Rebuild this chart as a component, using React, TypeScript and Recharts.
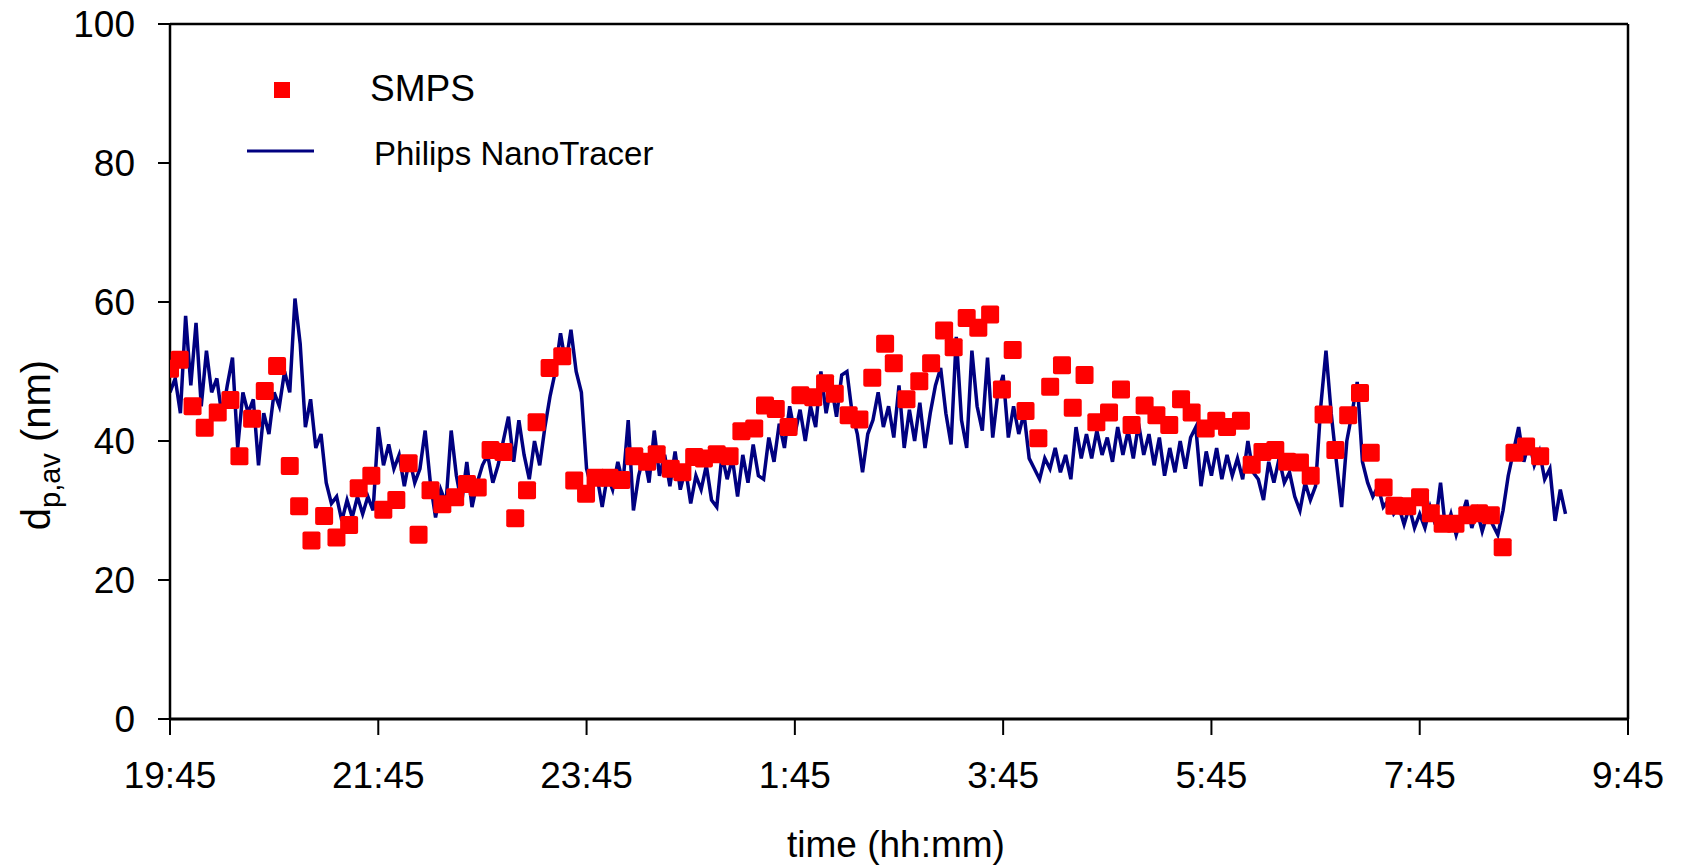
import React from 'react';
import { ComposedChart, Line, Scatter, XAxis, YAxis, ReferenceLine } from 'recharts';

const FONT = "Arial, 'Liberation Sans', sans-serif";

// x axis: minutes after 19:45
const timeTicks = [0, 120, 240, 360, 480, 600, 720, 840];
const timeTickLabels = ['19:45', '21:45', '23:45', '1:45', '3:45', '5:45', '7:45', '9:45'];
const dpTicks = [0, 20, 40, 60, 80, 100];

// SMPS mean diameter (nm)
const smpsTime = [
  0, 5.6, 13, 20, 27.5, 34.8, 40, 47.3, 54.6, 61.7,
  69, 74.4, 81.5, 88.8, 95.9, 103.2, 108.7, 116, 122.9, 130.4,
  137.5, 143.2, 150.1, 156.9, 164.3, 171.1, 177.3, 184.7, 192.1, 198.9,
  205.7, 211.2, 218.7, 226, 232.9, 239.7, 245.2, 253.2, 260, 267.5,
  274.9, 280.4, 288.5, 295.2, 302, 307.6, 315, 322.4, 329.2, 336.6,
  342.8, 349, 356.4, 363.2, 370.6, 377.4, 383, 391, 397.2, 404.6,
  412, 417, 424.3, 431.7, 438.5, 446, 451.5, 459, 465.7, 472.5,
  479.3, 485.5, 492.9, 500.3, 507.1, 513.9, 520.1, 526.9, 533.7, 541,
  547.9, 554, 561.5, 568.3, 575.7, 582.5, 588.6, 596.7, 602.8, 609,
  617, 623.2, 629.4, 636.8, 643.6, 651, 657.2, 664.6, 671.4, 678.8,
  685.6, 691.8, 699.2, 705.4, 712.8, 720.2, 726.4, 733.2, 740.6, 747.4,
  754.2, 761, 767.8, 774.6, 781.3, 789.4,
];
const smpsDp = [
  50.4, 51.7, 45.0, 41.9, 44.1, 45.9, 37.8, 43.2, 47.2, 50.8,
  36.4, 30.6, 25.7, 29.2, 26.1, 27.9, 33.2, 35.0, 30.1, 31.5,
  36.8, 26.5, 32.9, 30.9, 31.9, 33.8, 33.3, 38.7, 38.4, 28.9,
  32.9, 42.7, 50.5, 52.2, 34.3, 32.4, 34.7, 34.7, 34.4, 37.8,
  37.0, 38.1, 36.0, 35.5, 37.7, 37.5, 38.1, 37.8, 41.4, 41.8,
  45.1, 44.6, 42.0, 46.6, 46.3, 48.3, 46.8, 43.7, 43.1, 49.1,
  54.0, 51.2, 46.0, 48.6, 51.2, 55.9, 53.5, 57.7, 56.3, 58.2,
  47.4, 53.1, 44.3, 40.4, 47.8, 50.9, 44.8, 49.5, 42.7, 44.1,
  47.4, 42.3, 45.1, 43.7, 42.3, 46.0, 44.1, 41.8, 42.9, 42.0,
  42.9, 36.6, 38.4, 38.7, 37.0, 36.9, 35.0, 43.8, 38.7, 43.7,
  46.9, 38.3, 33.3, 30.7, 30.6, 31.9, 29.6, 28.1, 28.1, 29.3,
  29.6, 29.3, 24.7, 38.3, 39.2, 37.8,
];

// Philips NanoTracer, sampled every 3 minutes from 19:45
const nanoStepMin = 3;
const nanoDp = [
  47, 49, 44, 58, 48, 57, 45, 53, 47, 49,
  43.5, 48, 52, 39, 47, 44, 46, 36.5, 44, 41,
  47, 45, 50, 47, 60.5, 54, 42, 46, 39, 41,
  34, 31, 32, 28.5, 31.5, 29, 32, 29.5, 32, 30,
  42, 36.5, 39.5, 36, 38, 33.5, 37.5, 34, 36, 41.5,
  34, 29, 33, 31, 41.5, 35, 31, 37, 30.5, 34,
  36.5, 38, 34, 36.5, 40, 43.5, 37, 43, 38, 34.5,
  40, 36.5, 42, 46.5, 50, 55.5, 51, 56, 50, 47,
  36, 33, 35, 30.5, 35, 33, 37, 34, 43, 30,
  35, 38, 34, 41.5, 35, 38, 33.5, 38.5, 33, 36,
  31, 35, 33, 36.5, 31.5, 30.5, 38, 34.5, 37.5, 32,
  38, 34, 39.5, 35, 34.5, 40.5, 37, 42.5, 39, 45,
  41, 44.5, 40, 45, 42, 50, 44, 48, 43.5, 49.5,
  50, 44, 41, 35.5, 41, 43, 47, 42, 45, 40.5,
  48, 39, 44.5, 40, 45.5, 39, 44, 48, 50.5, 44,
  39.5, 55, 43, 39, 53, 45, 41.5, 52, 40.5, 47,
  49.5, 40.5, 45, 41, 44, 37.5, 36, 34.5, 37.5, 36,
  39, 35.5, 38, 34.5, 42, 37.5, 41, 37.5, 41.5, 38,
  40.5, 37, 42, 38, 41.5, 37.5, 42.5, 38, 41, 36.5,
  40.5, 35, 39, 35.5, 40, 36, 40.5, 42, 33.5, 38.5,
  35, 39, 34.5, 38, 35, 37.5, 34.5, 40, 35.5, 34.5,
  31.5, 37, 34, 37.5, 34, 35.5, 32, 30, 34, 31.5,
  33.5, 45, 53, 44, 37, 30.5, 40, 44, 48.5, 37,
  34, 32, 33.5, 30.5, 31.5, 29.5, 30.5, 28, 30.5, 27.5,
  29.5, 27.5, 30.5, 28, 34, 27, 29.5, 26.5, 29, 31.5,
  27.5, 30, 27, 29.5, 28, 26.5, 30, 35, 38.5, 42,
  37, 40, 36.5, 38.5, 34.5, 36, 28.5, 33, 29.5,
];

const smpsData = smpsTime.map((t, i) => ({ t, v: smpsDp[i] }));
const nanoData = nanoDp.map((v, i) => ({ t: i * nanoStepMin, v }));

const Square = (p: any) => {
  if (p.cx == null || p.cy == null) return null;
  return <rect x={p.cx - 9} y={p.cy - 9} width={18} height={18} rx={2} fill="#FF0000" />;
};

const tickStyle = { fill: '#000', fontSize: 37, fontFamily: FONT };

export default function App() {
  return (
    <div style={{ position: 'absolute', left: 0, top: 0, width: 1682, height: 867, background: '#fff' }}>
      <ComposedChart
        width={1682}
        height={867}
        margin={{ top: 24, right: 54, bottom: 0, left: 0 }}
      >
        <XAxis
          type="number"
          dataKey="t"
          domain={[0, 840]}
          ticks={timeTicks}
          interval={0}
          allowDataOverflow
          tickFormatter={(v: number) => timeTickLabels[timeTicks.indexOf(v)]}
          height={148}
          tickSize={16}
          tickMargin={27}
          axisLine={{ stroke: '#000', strokeWidth: 3 }}
          tickLine={{ stroke: '#000', strokeWidth: 2 }}
          tick={tickStyle}
        />
        <YAxis
          type="number"
          dataKey="v"
          domain={[0, 100]}
          ticks={dpTicks}
          interval={0}
          allowDataOverflow
          width={170}
          tickSize={12}
          tickMargin={23}
          axisLine={{ stroke: '#000', strokeWidth: 2.5 }}
          tickLine={{ stroke: '#000', strokeWidth: 2 }}
          tick={tickStyle}
        />
        <ReferenceLine y={100} stroke="#000" strokeWidth={2.5} />
        <ReferenceLine x={840} stroke="#000" strokeWidth={2.5} />
        <Line
          data={nanoData}
          dataKey="v"
          type="linear"
          stroke="#000080"
          strokeWidth={3.5}
          strokeLinejoin="miter"
          dot={false}
          activeDot={false}
          isAnimationActive={false}
        />
        <Scatter
          data={smpsData}
          dataKey="v"
          shape={Square}
          isAnimationActive={false}
        />
      </ComposedChart>
      <svg
        width={1682}
        height={867}
        style={{ position: 'absolute', left: 0, top: 0, pointerEvents: 'none' }}
      >
        {/* legend */}
        <rect x={274} y={82} width={16} height={16} fill="#FF0000" />
        <text x={370} y={101} fontSize={37} fontFamily={FONT} fill="#000">SMPS</text>
        <line x1={247} y1={151} x2={314} y2={151} stroke="#000080" strokeWidth={3} />
        <text x={374} y={165} fontSize={33} fontFamily={FONT} fill="#000">Philips NanoTracer</text>
        {/* axis titles */}
        <text x={896} y={857} fontSize={37} fontFamily={FONT} fill="#000" textAnchor="middle">time (hh:mm)</text>
        <text
          x={50}
          y={445}
          fontSize={40}
          fontFamily={FONT}
          fill="#000"
          textAnchor="middle"
          transform="rotate(-90 50 445)"
        >
          d<tspan fontSize={29} dy={10}>p,av</tspan><tspan dy={-10}> (nm)</tspan>
        </text>
      </svg>
    </div>
  );
}
